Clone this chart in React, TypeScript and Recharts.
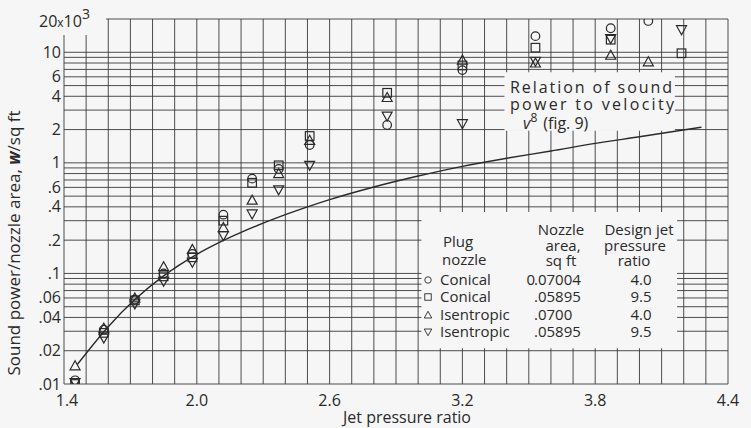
import React from 'react';
import { ComposedChart, XAxis, YAxis, CartesianGrid, Scatter, Line, ReferenceArea } from 'recharts';

// ---- data ----
const conicalA_x = [1.45, 1.58, 1.72, 1.85, 1.98, 2.12, 2.25, 2.37, 2.51, 2.86, 3.2, 3.53, 3.87, 4.04];
const conicalA_y = [0.0108, 0.031, 0.058, 0.1, 0.15, 0.34, 0.72, 0.88, 1.45, 2.2, 6.9, 14, 16.5, 19.2];

const conicalB_x = [1.45, 1.58, 1.72, 1.85, 1.98, 2.12, 2.25, 2.37, 2.51, 2.86, 3.2, 3.53, 3.87, 4.19];
const conicalB_y = [0.01, 0.029, 0.057, 0.094, 0.14, 0.3, 0.66, 0.95, 1.75, 4.3, 7.6, 11, 13, 9.8];

const isenA_x = [1.45, 1.58, 1.72, 1.85, 1.98, 2.12, 2.25, 2.37, 2.51, 2.86, 3.2, 3.53, 3.87, 4.04];
const isenA_y = [0.0146, 0.032, 0.06, 0.115, 0.165, 0.26, 0.46, 0.8, 1.6, 3.9, 8.5, 8.0, 9.4, 8.2];

const isenB_x = [1.45, 1.58, 1.72, 1.85, 1.98, 2.12, 2.25, 2.37, 2.51, 2.86, 3.2, 3.53, 3.87, 4.19];
const isenB_y = [0.0103, 0.026, 0.053, 0.085, 0.126, 0.22, 0.345, 0.57, 0.95, 2.65, 2.26, 8.3, 13.3, 16];

const curve_x = [1.46, 1.6, 1.72, 1.85, 2.0, 2.1, 2.2, 2.3, 2.4, 2.5, 2.6, 2.8, 3.0, 3.2, 3.4, 3.6, 3.8, 4.0, 4.28];
const curve_y = [0.015, 0.033, 0.058, 0.095, 0.149, 0.19, 0.235, 0.285, 0.34, 0.4, 0.465, 0.605, 0.76, 0.93, 1.1, 1.28, 1.5, 1.72, 2.1];

const xTicks = [1.4, 2.0, 2.6, 3.2, 3.8, 4.4];
const xTickLabels = ['1.4', '2.0', '2.6', '3.2', '3.8', '4.4'];
const yTicks = [0.01, 0.02, 0.04, 0.06, 0.1, 0.2, 0.4, 0.6, 1, 2, 4, 6, 10, 20];
const yTickLabels = ['.01', '.02', '.04', '.06', '.1', '.2', '.4', '.6', '1', '2', '4', '6', '10', '20'];

const legendNames = ['Conical', 'Conical', 'Isentropic', 'Isentropic'];
const legendAreaInt = ['0', '', '', ''];
const legendAreaFrac = ['.07004', '.05895', '.0700', '.05895'];
const legendDesign = ['4.0', '9.5', '4.0', '9.5'];

// ---- helpers ----
const zip = (xs: number[], ys: number[]) => xs.map((x, i) => ({ x, y: ys[i] }));
const gridY: number[] = [];
[0.01, 0.1, 1].forEach((d) => {
  for (let k = 1; k <= 9; k++) gridY.push(+(k * d).toFixed(4));
});
gridY.push(10, 20);
const gridX: number[] = [];
for (let i = 0; i <= 30; i++) gridX.push(+(1.4 + i * 0.1).toFixed(2));

const BG = '#f6f6f6';
const INK = '#2a2a2a';
const FONT = "'Open Sans', 'DejaVu Sans', sans-serif";

const Circle = ({ cx, cy }: any) => <circle cx={cx} cy={cy} r={4.3} fill="none" stroke={INK} strokeWidth={1.2} />;
const Square = ({ cx, cy }: any) => <rect x={cx - 4.3} y={cy - 4.3} width={8.6} height={8.6} fill="none" stroke={INK} strokeWidth={1.2} />;
const TriUp = ({ cx, cy }: any) => (
  <polygon points={`${cx},${cy - 5} ${cx - 5},${cy + 4} ${cx + 5},${cy + 4}`} fill="none" stroke={INK} strokeWidth={1.2} />
);
const TriDown = ({ cx, cy }: any) => (
  <polygon points={`${cx},${cy + 5} ${cx - 5},${cy - 4} ${cx + 5},${cy - 4}`} fill="none" stroke={INK} strokeWidth={1.2} />
);
const shapes = [Circle, Square, TriUp, TriDown];

const YTick = (props: any) => {
  const { y, payload } = props;
  const v = payload.value;
  const idx = yTicks.indexOf(v);
  if (v === 20) {
    return (
      <text x={39} y={27} fill={INK} fontFamily={FONT} fontSize={16}>
        20<tspan fontSize={12}>x</tspan>10<tspan dy={-8} fontSize={14}>3</tspan>
      </text>
    );
  }
  return (
    <text x={61} y={y} dy={5.5} textAnchor="end" fill={INK} fontFamily={FONT} fontSize={16}>
      {yTickLabels[idx]}
    </text>
  );
};

const XTick = (props: any) => {
  const { x, payload } = props;
  const idx = xTicks.indexOf(payload.value);
  return (
    <text x={x + (idx === 0 ? 3 : 0)} y={406} textAnchor="middle" fill={INK} fontFamily={FONT} fontSize={16}>
      {xTickLabels[idx]}
    </text>
  );
};

export default function App() {
  const txt = { fill: INK, fontFamily: FONT, fontSize: 15 } as any;
  const rowsY = [285, 302, 320, 337];
  return (
    <div style={{ position: 'absolute', left: 0, top: 0, width: 751, height: 428, background: BG }}>
      <ComposedChart width={751} height={428} margin={{ top: 19, right: 23, bottom: 0, left: 14 }}>
        <CartesianGrid
          stroke="#3a3a3a"
          strokeWidth={0.9}
          horizontalValues={gridY}
          verticalValues={gridX}
          fill="none"
        />
        <XAxis
          type="number"
          dataKey="x"
          domain={[1.4, 4.4]}
          ticks={xTicks}
          tick={<XTick />}
          tickLine={false}
          axisLine={false}
          height={44}
          allowDataOverflow
          interval={0}
        />
        <YAxis
          type="number"
          dataKey="y"
          scale="log"
          domain={[0.01, 20]}
          ticks={yTicks}
          tick={<YTick />}
          tickLine={false}
          axisLine={false}
          width={50}
          allowDataOverflow
          interval={0}
        />
        <ReferenceArea x1={3.39} x2={4.16} y1={1.95} y2={6.6} fill={BG} fillOpacity={1} stroke="none" ifOverflow="visible" />
        <ReferenceArea x1={3.015} x2={4.17} y1={0.021} y2={0.36} fill={BG} fillOpacity={1} stroke="none" ifOverflow="visible" />
        <ReferenceArea x1={1.385} x2={1.59} y1={14.3} y2={21} fill={BG} fillOpacity={1} stroke="none" ifOverflow="visible" />
        <Line
          data={zip(curve_x, curve_y)}
          dataKey="y"
          type="monotone"
          stroke={INK}
          strokeWidth={1.4}
          dot={false}
          isAnimationActive={false}
        />
        <Scatter data={zip(conicalA_x, conicalA_y)} dataKey="y" shape={<Circle />} isAnimationActive={false} />
        <Scatter data={zip(conicalB_x, conicalB_y)} dataKey="y" shape={<Square />} isAnimationActive={false} />
        <Scatter data={zip(isenA_x, isenA_y)} dataKey="y" shape={<TriUp />} isAnimationActive={false} />
        <Scatter data={zip(isenB_x, isenB_y)} dataKey="y" shape={<TriDown />} isAnimationActive={false} />
      </ComposedChart>
      <svg width={751} height={428} style={{ position: 'absolute', left: 0, top: 0, pointerEvents: 'none' }}>
        {/* axis titles */}
        <text x={407} y={423} textAnchor="middle" {...txt} fontSize={16}>Jet pressure ratio</text>
        <text transform="translate(20,243) rotate(-90)" textAnchor="middle" {...txt} fontSize={17}>
          Sound power/nozzle area, <tspan fontWeight={700} fontStyle="italic">w</tspan>/sq ft
        </text>
        {/* annotation */}
        <text x={510} y={93} {...txt} fontSize={16} textLength={162} lengthAdjust="spacing">Relation of sound</text>
        <text x={510} y={110} {...txt} fontSize={16} textLength={164} lengthAdjust="spacing">power to velocity</text>
        <text x={523} y={129} {...txt} fontSize={16}>
          <tspan fontStyle="italic">v</tspan><tspan dy={-7} fontSize={12}>8</tspan><tspan dy={7} dx={6}>(fig. 9)</tspan>
        </text>
        {/* legend */}
        <text x={443} y={247} {...txt}>Plug</text>
        <text x={442} y={265} {...txt}>nozzle</text>
        <text x={561} y={235} textAnchor="middle" {...txt}>Nozzle</text>
        <text x={563} y={251} textAnchor="middle" {...txt}>area,</text>
        <text x={561} y={266} textAnchor="middle" {...txt}>sq ft</text>
        <text x={639} y={235} textAnchor="middle" {...txt}>Design jet</text>
        <text x={635} y={251} textAnchor="middle" {...txt}>pressure</text>
        <text x={634} y={266} textAnchor="middle" {...txt}>ratio</text>
        {legendNames.map((n, i) => {
          const S = shapes[i];
          return (
            <g key={i}>
              <g transform={`translate(${428},${rowsY[i] - 5}) scale(0.75) translate(${-428},${-(rowsY[i] - 5)})`}>
                <S cx={428} cy={rowsY[i] - 5} />
              </g>
              <text x={440} y={rowsY[i]} {...txt}>{n}</text>
              <text x={535} y={rowsY[i]} textAnchor="end" {...txt}>{legendAreaInt[i]}</text>
              <text x={534} y={rowsY[i]} {...txt}>{legendAreaFrac[i]}</text>
              <text x={641} y={rowsY[i]} textAnchor="middle" {...txt}>{legendDesign[i]}</text>
            </g>
          );
        })}
      </svg>
    </div>
  );
}
